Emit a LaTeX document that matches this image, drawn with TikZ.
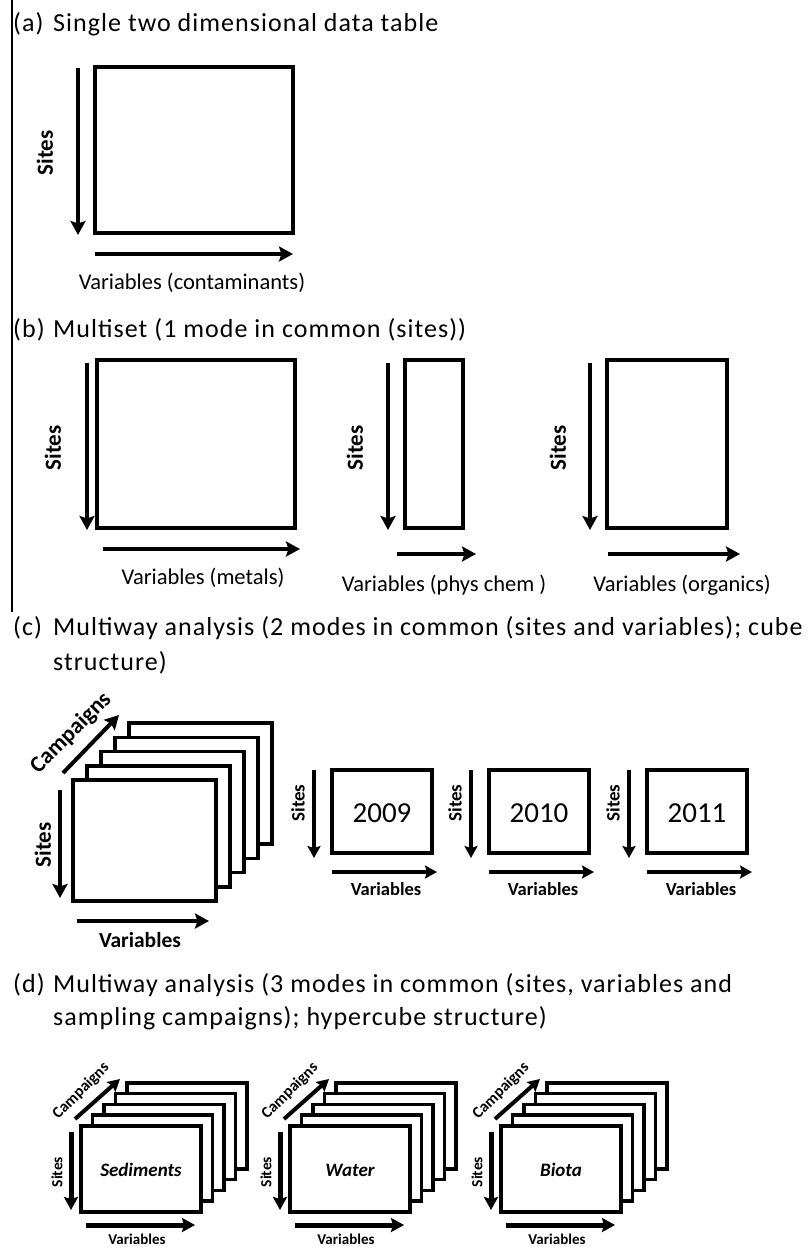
\documentclass[tikz,border=0pt]{standalone}
\usepackage{fontspec}
\setmainfont{Carlito}
\newfontfamily\ttlfont[LetterSpace=4]{Carlito}
\usetikzlibrary{arrows.meta,calc}
\begin{document}
\begin{tikzpicture}[x=1pt,y=-1pt,
  box/.style={line width=3.6pt},
  abox/.style={line width=3.6pt,fill=white},
  tblnode/.style={draw,line width=3.6pt,anchor=north west,inner sep=0pt,outer sep=0pt},
  arr/.style={line width=4pt,-{Stealth[length=14pt,width=15pt,inset=2.5pt]}},
  sarr/.style={line width=4pt,-{Stealth[length=12pt,width=13pt,inset=2pt]}},
  darr/.style={line width=5pt,-{Stealth[length=13pt,width=14pt,inset=2pt]}},
  ttl/.style={anchor=base west,inner sep=0pt,font=\ttlfont\fontsize{26}{30}\selectfont},
  sitelab/.style={rotate=90,inner sep=0pt,font=\bfseries\fontsize{#1}{#1}\selectfont},
  camplab/.style={rotate=45,inner sep=0pt,font=\bfseries\fontsize{#1}{#1}\selectfont},
  varlab/.style={inner sep=0pt,font=\fontsize{#1}{#1}\selectfont},
  bvarlab/.style={inner sep=0pt,font=\bfseries\fontsize{#1}{#1}\selectfont},
  frame/.style={line width=1.2pt}]
\useasboundingbox (0,0) rectangle (811,1247);
% left rule
\coordinate (ruleT) at (12,0);
\coordinate (ruleB) at (12,612);
\draw[frame] (ruleT) -- (ruleB);

% ---------- (a)
\node[ttl] (ta) at (13,32) {(a)};
\node[ttl] (taa) at (53,32) {Single two dimensional data table};
\node[tblnode,minimum width=198pt,minimum height=166pt] (A) at (95,67) {};
\coordinate (as1) at (78,68); \coordinate (as2) at (78,235);
\draw[arr] (as1) -- (as2);
\node[sitelab=23] (asl) at (45,153) {Sites};
\coordinate (av1) at (95,254); \coordinate (av2) at (293,254);
\draw[arr] (av1) -- (av2);
\node[varlab=22.5] (avl) at (192,283) {Variables (contaminants)};

% ---------- (b)
\node[ttl] (tb) at (13,337) {(b)};
\node[ttl] (tbb) at (53,337) {Multiset (1 mode in common (sites))};
\foreach \n/\xl/\xr/\sx/\slx/\vxa/\vxb/\vy/\vlx/\vly/\txt in
  {1/97/295/87/53/103/300/549/203/578/{Variables (metals)},
   2/405/463/388/355/397/476/554/444/585/{Variables (phys chem )},
   3/607/727/590/558/608/740/554/682/585/{Variables (organics)}}{
  \draw[box] (\xl,360) rectangle (\xr,528);
  \coordinate (bs\n a) at (\sx,363); \coordinate (bs\n b) at (\sx,530);
  \draw[arr] (bs\n a) -- (bs\n b);
  \node[sitelab=23] (bsl\n) at (\slx,448) {Sites};
  \coordinate (bv\n a) at (\vxa,\vy); \coordinate (bv\n b) at (\vxb,\vy);
  \draw[arr] (bv\n a) -- (bv\n b);
  \node[varlab=22.5] (bvl\n) at (\vlx,\vly) {\txt};
}

% ---------- (c)
\node[ttl] (tc) at (13,635) {(c)};
\node[ttl] (tcc) at (53,635) {Multiway analysis (2 modes in common (sites and variables); cube};
\node[ttl] (tcc2) at (53,670) {structure)};
\foreach \k in {4,3,2,1,0}{
  \draw[abox] ({73+\k*14},{780-\k*14.2}) rectangle ++(143,121);
}
\coordinate (cc1) at (63,773); \coordinate (cc2) at (119,715);
\draw[arr] (cc1) -- (cc2);
\node[camplab=23] (ccl) at (71,733) {Campaigns};
\coordinate (cs1) at (60,790); \coordinate (cs2) at (60,898);
\draw[arr] (cs1) -- (cs2);
\node[sitelab=23] (csl) at (43,845) {Sites};
\coordinate (cv1) at (77,921); \coordinate (cv2) at (209,921);
\draw[arr] (cv1) -- (cv2);
\node[bvarlab=21.5] (cvl) at (140,940) {Variables};

\foreach \yr/\bx [count=\i] in {2009/332,2010/489,2011/647}{
  \node[tblnode,minimum width=100pt,minimum height=83pt] (cy\i) at (\bx,770) {};
  \node[inner sep=0pt,font=\fontsize{29}{29}\selectfont] (cyt\i) at ({\bx+50},813) {\yr};
  \coordinate (cys\i a) at ({\bx-18},770); \coordinate (cys\i b) at ({\bx-18},858);
  \draw[sarr] (cys\i a) -- (cys\i b);
  \node[sitelab=19] (cysl\i) at ({\bx-34},803) {Sites};
  \coordinate (cyv\i a) at (\bx,872); \coordinate (cyv\i b) at ({\bx+105},872);
  \draw[sarr] (cyv\i a) -- (cyv\i b);
  \node[bvarlab=18.5] (cyvl\i) at ({\bx+54},889) {Variables};
}

% ---------- (d)
\node[ttl] (td) at (13,992) {(d)};
\node[ttl] (tdd) at (53,992) {Multiway analysis (3 modes in common (sites, variables and};
\node[ttl] (tdd2) at (53,1025) {sampling campaigns); hypercube structure)};
\foreach \s/\nm [count=\i] in {0/Sediments,209/Water,420/Biota}{
  \foreach \k in {4,3,2,1,0}{
    \draw[abox] ({81+\s+\k*11.5},{1126-\k*10.8}) rectangle ++(120,86);
  }
  \node[inner sep=0pt,anchor=base,font=\bfseries\itshape\fontsize{19}{19}\selectfont] (dn\i) at ({141+\s},1176) {\nm};
  \coordinate (dc\i a) at ({75+\s},1119); \coordinate (dc\i b) at ({120+\s},1079);
  \draw[sarr] (dc\i a) -- (dc\i b);
  \node[camplab=16] (dcl\i) at ({81+\s},1091) {Campaigns};
  \coordinate (ds\i a) at ({71+\s},1132); \coordinate (ds\i b) at ({71+\s},1210);
  \draw[darr] (ds\i a) -- (ds\i b);
  \node[sitelab=15.5] (dsl\i) at ({57+\s},1172) {Sites};
  \coordinate (dv\i a) at ({86+\s},1225); \coordinate (dv\i b) at ({195+\s},1225);
  \draw[darr] (dv\i a) -- (dv\i b);
  \node[bvarlab=15] (dvl\i) at ({137+\s},1239) {Variables};
}
\end{tikzpicture}
\end{document}
